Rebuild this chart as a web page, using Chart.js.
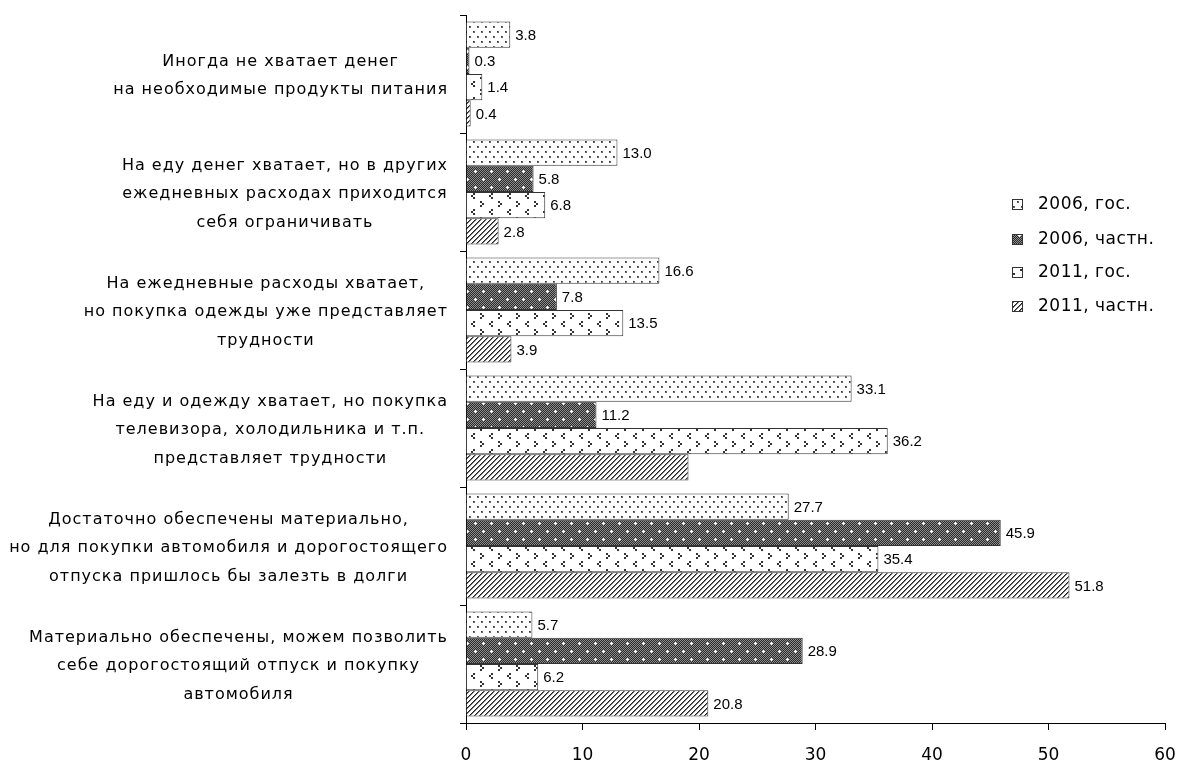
<!DOCTYPE html>
<html><head><meta charset="utf-8">
<script src="https://cdn.jsdelivr.net/npm/chart.js@4.4.0/dist/chart.umd.min.js"></script>
<style>html,body{margin:0;padding:0;background:#fff}canvas{display:block}</style>
</head><body>
<canvas id="c" width="1177" height="763"></canvas>
<script>
const categories = [
  ["Иногда не хватает денег", "на необходимые продукты питания"],
  ["На еду денег хватает, но в других", "ежедневных расходах приходится", "себя ограничивать"],
  ["На ежедневные расходы хватает,", "но покупка одежды уже представляет", "трудности"],
  ["На еду и одежду хватает, но покупка", "телевизора, холодильника и т.п.", "представляет трудности"],
  ["Достаточно обеспечены материально,", "но для покупки автомобиля и дорогостоящего", "отпуска пришлось бы залезть в долги"],
  ["Материально обеспечены, можем позволить", "себе дорогостоящий отпуск и покупку", "автомобиля"]
];
const seriesNames = ["2006, гос.", "2006, частн.", "2011, гос.", "2011, частн."];
const gos2006   = [3.8, 13.0, 16.6, 33.1, 27.7, 5.7];
const chastn2006 = [0.3, 5.8, 7.8, 11.2, 45.9, 28.9];
const gos2011   = [1.4, 6.8, 13.5, 36.2, 35.4, 6.2];
const chastn2011 = [0.4, 2.8, 3.9, 19.1, 51.8, 20.8];
const hiddenValueLabels = [[3, 3]]; // [series, category] without a printed value
const xTicks = [0, 10, 20, 30, 40, 50, 60];

function tile(w, h, draw) {
  const c = document.createElement('canvas'); c.width = w; c.height = h;
  const g = c.getContext('2d'); draw(g);
  return document.getElementById('c').getContext('2d').createPattern(c, 'repeat');
}
const pDots = tile(8, 10, g => {
  g.fillStyle = '#fff'; g.fillRect(0, 0, 8, 10);
  g.fillStyle = '#666'; g.fillRect(1, 1, 2, 2); g.fillRect(5, 6, 2, 2);
  g.fillStyle = '#333'; g.fillRect(1, 1, 1, 1); g.fillRect(5, 6, 1, 1);
});
const pDark = tile(16, 16, g => {
  for (let y = 0; y < 16; y++) for (let x = 0; x < 16; x++) {
    g.fillStyle = ((x + y) % 2) ? '#2a2a2a' : '#8c8c8c'; g.fillRect(x, y, 1, 1);
  }
  g.fillStyle = '#fff';
  g.fillRect(3, 2, 1, 3); g.fillRect(2, 3, 3, 1);
  g.fillRect(11, 10, 1, 3); g.fillRect(10, 11, 3, 1);
});
const pChev = tile(18, 16, g => {
  g.fillStyle = '#fff'; g.fillRect(0, 0, 18, 16);
  g.fillStyle = '#333';
  g.fillRect(5, 1, 2, 2); g.fillRect(3, 3, 2, 2); g.fillRect(5, 5, 2, 2);
  g.fillRect(12, 9, 2, 2); g.fillRect(14, 11, 2, 2); g.fillRect(12, 13, 2, 2);
});
const pHatch = tile(5, 5, g => {
  g.fillStyle = '#fff'; g.fillRect(0, 0, 5, 5);
  g.fillStyle = '#222';
  for (let i = 0; i < 5; i++) g.fillRect(i, 4 - i, 1, 1);
  g.fillStyle = '#777';
  for (let i = 0; i < 5; i++) g.fillRect((i + 1) % 5, 4 - i, 1, 1);
});
const fills = [pDots, pDark, pChev, pHatch];
const seriesValues = [gos2006, chastn2006, gos2011, chastn2011];

const valueLabels = {
  id: 'valueLabels',
  afterDatasetsDraw(chart) {
    const ctx = chart.ctx;
    ctx.save();
    ctx.font = '15px "Liberation Sans Narrow", "Arial Narrow", sans-serif';
    ctx.fillStyle = '#000'; ctx.textBaseline = 'middle'; ctx.textAlign = 'left';
    chart.data.datasets.forEach((ds, di) => {
      chart.getDatasetMeta(di).data.forEach((bar, i) => {
        if (hiddenValueLabels.some(h => h[0] === di && h[1] === i)) return;
        ctx.fillText(ds.data[i].toFixed(1), bar.x + 5, bar.y + 1);
      });
    });
    ctx.restore();
  }
};
const catLabels = {
  id: 'catLabels',
  afterDraw(chart) {
    const ctx = chart.ctx, y = chart.scales.y;
    ctx.save();
    ctx.font = '16px "DejaVu Sans", sans-serif';
    ctx.letterSpacing = '1px';
    ctx.fillStyle = '#000'; ctx.textBaseline = 'middle'; ctx.textAlign = 'center';
    const lh = 28.5, rightEdge = 448;
    categories.forEach((lines, i) => {
      const cy = y.getPixelForValue(i) + 2;
      const w = Math.max(...lines.map(l => ctx.measureText(l).width));
      const cx = rightEdge - w / 2;
      lines.forEach((l, k) => ctx.fillText(l, cx, cy + (k - (lines.length - 1) / 2) * lh));
    });
    ctx.font = '17px "DejaVu Sans", sans-serif';
    ctx.letterSpacing = '0.5px';
    ctx.textAlign = 'left';
    const ly = [205, 240, 273, 307];
    seriesNames.forEach((n, i) => {
      ctx.fillStyle = fills[i]; ctx.fillRect(1012, ly[i] - 6, 11, 11);
      ctx.strokeStyle = '#333'; ctx.lineWidth = 1; ctx.strokeRect(1012.5, ly[i] - 5.5, 10, 10);
      ctx.fillStyle = '#000'; ctx.fillText(n, 1038, ly[i]);
    });
    ctx.restore();
  }
};

new Chart(document.getElementById('c'), {
  type: 'bar',
  data: {
    labels: categories,
    datasets: seriesNames.map((n, i) => ({
      label: n, data: seriesValues[i], backgroundColor: fills[i],
      borderColor: '#333', borderWidth: 1,
      categoryPercentage: 0.89, barPercentage: 1.0
    }))
  },
  options: {
    indexAxis: 'y', responsive: false, animation: false,
    layout: { padding: { top: 15, right: 12, left: 0, bottom: 0 } },
    plugins: { legend: { display: false }, tooltip: { enabled: false } },
    scales: {
      x: {
        min: 0, max: 60,
        afterBuildTicks: s => { s.ticks = xTicks.map(v => ({ value: v })); },
        afterFit: s => { s.height = 40; s.paddingRight = 0; s.paddingLeft = 0; },
        grid: { drawOnChartArea: false, drawTicks: true, tickLength: 7, color: '#000' },
        border: { color: '#000', width: 1 },
        ticks: { color: '#000', padding: 15, font: { family: '"DejaVu Sans", sans-serif', size: 17 } }
      },
      y: {
        offset: true,
        afterFit: s => { s.width = 466; s.paddingTop = 0; s.paddingBottom = 0; },
        grid: { offset: true, drawOnChartArea: false, drawTicks: true, tickLength: 6, color: '#000' },
        border: { color: '#000', width: 1 },
        ticks: { display: false }
      }
    }
  },
  plugins: [valueLabels, catLabels]
});
</script>
</body></html>
